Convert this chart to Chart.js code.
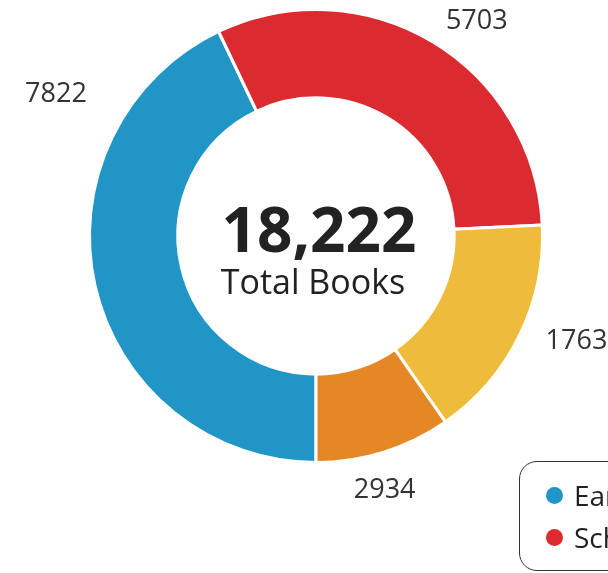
<!DOCTYPE html>
<html>
<head>
<meta charset="utf-8">
<title>Total Books</title>
<script src="https://cdn.jsdelivr.net/npm/chart.js@4.4.1/dist/chart.umd.min.js"></script>
<style>
  html, body { margin: 0; padding: 0; background: #fff; overflow: hidden; }
  #wrap { position: relative; width: 608px; height: 573px; overflow: hidden; }
  #legend {
    position: absolute; left: 519px; top: 461px; width: 560px; height: 110px;
    box-sizing: border-box; border: 1px solid #333; border-radius: 18px;
    font-family: "Open Sans", sans-serif; font-size: 28px; color: #222;
    display: grid; grid-template-rows: 42px 42px; grid-auto-flow: column;
    grid-auto-columns: 270px; padding: 12px 0 0 26px;
  }
  .item { display: flex; align-items: center; white-space: nowrap; }
  .dot { width: 17px; height: 17px; border-radius: 50%; margin-right: 11px; flex: none; }
</style>
</head>
<body>
<div id="wrap">
  <canvas id="books_chart" width="608" height="573"></canvas>
  <div id="legend"></div>
</div>
<script>
const categories = ['Early Readers', 'School Library', 'Fiction', 'Reference'];
const bookCounts = [7822, 5703, 2934, 1763];
// value labels as printed next to the ring
const sliceLabels = ['7822', '5703', '1763', '2934'];
const sliceColors = ['#2196c6', '#dc2a31', '#eebb3a', '#e68726'];

const centerText = {
  id: 'centerText',
  afterDraw(chart) {
    const ctx = chart.ctx;
    const arc = chart.getDatasetMeta(0).data[0];
    const total = bookCounts.reduce((a, b) => a + b, 0);
    ctx.save();
    ctx.textAlign = 'center';
    ctx.textBaseline = 'alphabetic';
    ctx.fillStyle = '#222';
    ctx.font = 'bold 62px "Open Sans"';
    ctx.fillText(total.toLocaleString('en-US'), arc.x + 3, arc.y + 16);
    ctx.font = '34px "Open Sans"';
    ctx.fillText('Total Books', arc.x - 3, arc.y + 58);
    ctx.restore();
  }
};

const outLabels = {
  id: 'outLabels',
  afterDraw(chart, args, opts) {
    const ctx = chart.ctx;
    ctx.save();
    ctx.font = opts.font;
    ctx.fillStyle = opts.color;
    ctx.textAlign = 'center';
    ctx.textBaseline = 'middle';
    chart.getDatasetMeta(0).data.forEach((arc, i) => {
      const p = arc.getProps(['x', 'y', 'startAngle', 'endAngle', 'outerRadius'], true);
      const a = (p.startAngle + p.endAngle) / 2 + opts.nudge[i][0] * Math.PI / 180;
      const text = sliceLabels[i];
      const hw = ctx.measureText(text).width / 2;
      const r = p.outerRadius + opts.pad + opts.nudge[i][1]
        + hw * Math.abs(Math.cos(a)) + opts.halfHeight * Math.abs(Math.sin(a));
      ctx.fillText(text, p.x + r * Math.cos(a), p.y + r * Math.sin(a));
    });
    ctx.restore();
  }
};

const config = {
  type: 'doughnut',
  data: {
    labels: categories,
    datasets: [{
      data: bookCounts,
      backgroundColor: sliceColors,
      borderColor: '#ffffff',
      borderWidth: 3,
      hoverOffset: 0
    }]
  },
  options: {
    responsive: false,
    animation: false,
    rotation: 180,
    cutout: '61%',
    layout: {
      padding: { left: 88, right: 64, top: 8, bottom: 109 }
    },
    plugins: {
      legend: { display: false },
      tooltip: { enabled: false },
      outLabels: {
        font: '27px "Open Sans"',
        color: '#333',
        pad: 19,
        halfHeight: 10,
        nudge: [[41.4, 19], [6, -4], [-4.2, 3], [2.3, 0]]
      }
    }
  },
  plugins: [centerText, outLabels]
};

const books_chart = new Chart(document.getElementById('books_chart'), config);

const legend = document.getElementById('legend');
categories.forEach((name, i) => {
  const item = document.createElement('div');
  item.className = 'item';
  const dot = document.createElement('span');
  dot.className = 'dot';
  dot.style.background = sliceColors[i];
  item.appendChild(dot);
  item.appendChild(document.createTextNode(name));
  legend.appendChild(item);
});
</script>
</body>
</html>
